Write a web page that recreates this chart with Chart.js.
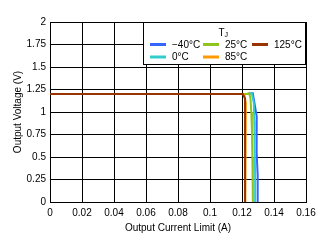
<!DOCTYPE html>
<html>
<head>
<meta charset="utf-8">
<script src="https://cdn.jsdelivr.net/npm/chart.js@4"></script>
<style>
  html, body { margin: 0; padding: 0; background: #fff; }
  #wrap { width: 329px; height: 243px; }
</style>
</head>
<body>
<div id="wrap"><canvas id="chart1" width="329" height="243"></canvas></div>
<script>
// series data (current in A, voltage in V)
var tempLabels = ["\u221240\u00b0C", "0\u00b0C", "25\u00b0C", "85\u00b0C", "125\u00b0C"]
var tempColors = ["#3366ff", "#33cccc", "#8fc31f", "#ff9900", "#993300"]

var curM40 = [0, 0.1240, 0.1267, 0.1275, 0.1292, 0.1293, 0.1290, 0.1298, 0.1298]
var voltM40 = [1.20, 1.20, 1.21, 1.13, 0.95, 0.70, 0.55, 0.30, 0]

var cur0 = [0, 0.1238, 0.1261, 0.1274, 0.1277, 0.1279, 0.1282, 0.1282]
var volt0 = [1.20, 1.20, 1.21, 1.10, 0.90, 0.60, 0.30, 0]

var cur25 = [0, 0.1232, 0.1245, 0.1253, 0.1258, 0.1262, 0.1265, 0.1268]
var volt25 = [1.20, 1.20, 1.21, 1.15, 1.00, 0.80, 0.50, 0]

var cur85 = [0, 0.1205, 0.1215, 0.1224, 0.1224, 0.1219, 0.1219]
var volt85 = [1.20, 1.20, 1.19, 1.10, 0.85, 0.80, 0]

var cur125 = [0, 0.1205, 0.1219, 0.1219, 0.1219]
var volt125 = [1.20, 1.20, 1.15, 0.50, 0]

var xTicks = [0, 0.02, 0.04, 0.06, 0.08, 0.1, 0.12, 0.14, 0.16]
var yTicks = [0, 0.25, 0.5, 0.75, 1, 1.25, 1.5, 1.75, 2]

var fontFam = "'Liberation Sans', Arial, sans-serif"

function toPoints(xs, ys) {
  var pts = []
  for (let i = 0; i < xs.length; i++) {
    pts.push({ x: xs[i], y: ys[i] })
  }
  return pts
}

function makeSet(idx, xs, ys) {
  return {
    label: tempLabels[idx],
    data: toPoints(xs, ys),
    borderColor: tempColors[idx],
    backgroundColor: tempColors[idx],
    borderWidth: 2,
    pointRadius: 0,
    tension: 0,
    fill: false
  }
}

// legend drawn inside the plot, like the original
var innerLegend = {
  id: 'innerLegend',
  afterDraw: function (chart) {
    var ctx = chart.ctx
    var a = chart.chartArea
    var left = Math.round(a.left + 93) + 0.5
    var top = Math.round(a.top) + 0.5
    var right = Math.round(a.right) - 0.5
    var bottom = top + 42
    ctx.save()
    ctx.fillStyle = "#fff"
    ctx.fillRect(left, top, right - left, bottom - top)
    ctx.strokeStyle = "#000"
    ctx.lineWidth = 1
    ctx.strokeRect(left, top, right - left, bottom - top)

    ctx.fillStyle = "#000"
    ctx.textBaseline = "middle"
    ctx.font = "10px " + fontFam
    ctx.fillText("T", left + 75, top + 10.5)
    ctx.font = "7px " + fontFam
    ctx.fillText("J", left + 81, top + 13)

    // order: row1 -40, 25, 125 ; row2 0, 85
    var items = [[0, 0, 0], [2, 1, 0], [4, 2, 0], [1, 0, 1], [3, 1, 1]]
    var colX = [left + 6.5, left + 59.5, left + 108.5]
    var rowY = [top + 22, top + 34.5]
    ctx.font = "10px " + fontFam
    items.forEach(it => {
      var x = colX[it[1]]
      var y = rowY[it[2]]
      ctx.strokeStyle = tempColors[it[0]]
      ctx.lineWidth = 3
      ctx.beginPath()
      ctx.moveTo(x, y)
      ctx.lineTo(x + 16, y)
      ctx.stroke()
      ctx.fillStyle = "#000"
      ctx.fillText(tempLabels[it[0]], x + 22, y + 0.5)
    })
    ctx.restore()
  }
}

var c1 = document.getElementById("chart1").getContext('2d')
var currentChart = new Chart(c1, {
  type: "line",
  data: {
    datasets: [
      makeSet(4, cur125, volt125),
      makeSet(3, cur85, volt85),
      makeSet(2, cur25, volt25),
      makeSet(1, cur0, volt0),
      makeSet(0, curM40, voltM40)
    ]
  },
  options: {
    responsive: false,
    animation: false,
    maintainAspectRatio: false,
    layout: { padding: { top: 22, right: 23, left: 0, bottom: 0 } },
    plugins: {
      legend: { display: false },
      tooltip: { enabled: false }
    },
    scales: {
      x: {
        type: "linear",
        min: 0,
        max: 0.16,
        afterBuildTicks: function (axis) {
          axis.ticks = xTicks.map(v => ({ value: v }))
        },
        afterFit: function (axis) { axis.height = 41 },
        grid: { color: "#000", lineWidth: 1, drawTicks: false },
        border: { color: "#000", width: 1 },
        ticks: {
          color: "#000",
          padding: 5,
          maxRotation: 0,
          autoSkip: false,
          font: { family: fontFam, size: 10 },
          callback: function (v) { return String(+v.toFixed(2)) }
        },
        title: {
          display: true,
          text: "Output Current Limit (A)",
          color: "#000",
          font: { family: fontFam, size: 10 },
          padding: { top: 0, bottom: 9 }
        }
      },
      y: {
        type: "linear",
        min: 0,
        max: 2,
        afterBuildTicks: function (axis) {
          axis.ticks = yTicks.map(v => ({ value: v }))
        },
        afterFit: function (axis) { axis.width = 50 },
        grid: { color: "#000", lineWidth: 1, drawTicks: false },
        border: { color: "#000", width: 1 },
        ticks: {
          color: "#000",
          padding: 4,
          autoSkip: false,
          font: { family: fontFam, size: 10 },
          callback: function (v) { return String(+v.toFixed(2)) }
        },
        title: {
          display: true,
          text: "Output Voltage (V)",
          color: "#000",
          font: { family: fontFam, size: 10 },
          padding: { top: 12, bottom: 0 }
        }
      }
    }
  },
  plugins: [innerLegend]
})
</script>
</body>
</html>
